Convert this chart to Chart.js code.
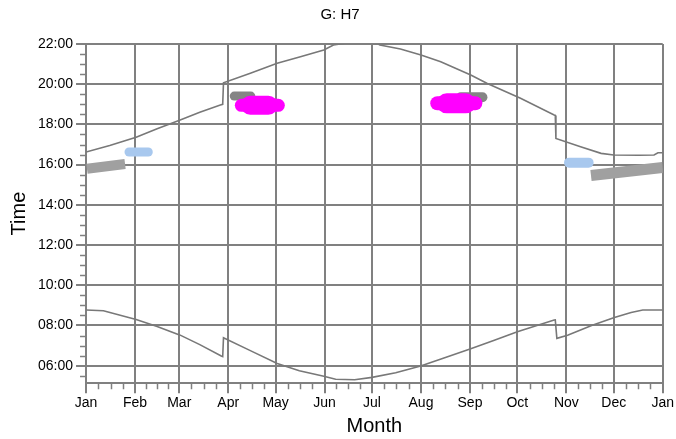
<!DOCTYPE html>
<html>
<head>
<meta charset="utf-8">
<script src="https://cdn.jsdelivr.net/npm/chart.js@4.4.1/dist/chart.umd.min.js"></script>
<style>
  body { margin: 0; background: #fff; }
</style>
</head>
<body>
<canvas id="myChart" width="676" height="439"></canvas>
<script>
// setup - x is day of year (0 = 1 Jan), y is clock time in hours
const monthLabels = ['Jan', 'Feb', 'Mar', 'Apr', 'May', 'Jun', 'Jul', 'Aug', 'Sep', 'Oct', 'Nov', 'Dec', 'Jan']
const monthStarts = [0, 31, 59, 90, 120, 151, 181, 212, 243, 273, 304, 334, 365]
const hourTicks = [6, 8, 10, 12, 14, 16, 18, 20, 22]

// sunset line
const sunsetDay = [0, 15, 31.7, 45, 59.6, 72, 85, 86.5, 87, 104, 121, 135.7, 150.5, 156.6, 165, 175, 185, 186, 199, 212, 224.5, 243.5, 254, 275, 296.3, 297, 297.4, 313, 326, 334, 350, 359.5, 362, 365]
const sunsetHour = [16.63, 16.95, 17.36, 17.78, 18.22, 18.6, 18.97, 19.0, 20.07, 20.54, 21.04, 21.37, 21.7, 21.95, 22.05, 22.08, 22.0, 21.95, 21.75, 21.45, 21.12, 20.46, 20.04, 19.3, 18.47, 18.45, 17.3, 16.89, 16.56, 16.48, 16.47, 16.48, 16.59, 16.59]

// sunrise line
const sunriseDay = [0, 11, 31.7, 45, 59.6, 72, 85.6, 86.5, 87, 104, 121, 135, 150.5, 158, 170, 181, 196, 211.8, 227, 243.5, 258, 273, 296.3, 297, 298, 304.8, 320, 334.4, 345, 352.4, 365]
const sunriseHour = [8.77, 8.73, 8.30, 7.95, 7.52, 7.05, 6.48, 6.45, 7.39, 6.75, 6.11, 5.75, 5.48, 5.33, 5.3, 5.42, 5.65, 5.98, 6.4, 6.84, 7.25, 7.69, 8.27, 8.28, 7.36, 7.52, 8.0, 8.40, 8.65, 8.77, 8.77]

// observation clusters: start/end day and hour of each band
const magentaAprCore = { day: [104.0, 115.4], hour: [18.95, 18.95] }
const magentaAprEdge = { day: [98.3, 121.7], hour: [18.95, 18.95] }
const magentaSepCore = { day: [228.3, 240.3], hour: [19.05, 19.05] }
const magentaSepEdge = { day: [222.3, 246.4], hour: [19.05, 19.05] }
const greyApr = { day: [93.8, 104.3], hour: [19.41, 19.41] }
const greySep = { day: [237.2, 250.9], hour: [19.35, 19.35] }
const greyJan = { day: [0.6, 24.7], hour: [15.8, 16.03] }
const greyDec = { day: [319.6, 365], hour: [15.46, 15.86] }
const blueFeb = { day: [27.2, 39.4], hour: [16.63, 16.63] }
const blueNov = { day: [305.7, 318.1], hour: [16.1, 16.1] }

const toPoints = (xs, ys) => xs.map((x, i) => ({ x: x, y: ys[i] }))

const gridGrey = '#808080'

function blob(set, color, width, cap) {
    return {
        data: toPoints(set.day, set.hour),
        borderColor: color,
        borderWidth: width,
        borderCapStyle: cap,
        pointRadius: 0,
        fill: false
    }
}

// minor tick marks (quarter months, half hours)
const minorTicks = {
    id: 'minorTicks',
    afterDraw(chart) {
        const ctx = chart.ctx
        const xs = chart.scales.x
        const ys = chart.scales.y
        const area = chart.chartArea
        ctx.save()
        ctx.strokeStyle = gridGrey
        ctx.lineWidth = 1.5
        ctx.beginPath()
        for (let i = 0; i < monthStarts.length - 1; i++) {
            const step = (monthStarts[i + 1] - monthStarts[i]) / 4
            for (let q = 1; q < 4; q++) {
                const px = Math.round(xs.getPixelForValue(monthStarts[i] + q * step)) + 0.5
                ctx.moveTo(px, area.bottom)
                ctx.lineTo(px, area.bottom + 6)
            }
        }
        for (let h = 5.5; h < 22; h += 0.5) {
            if (h % 2 === 0 || h < ys.min) continue
            const py = Math.round(ys.getPixelForValue(h)) + 0.5
            ctx.moveTo(area.left, py)
            ctx.lineTo(area.left - 6, py)
        }
        ctx.stroke()
        ctx.restore()
    }
}

Chart.defaults.font.family = "'Liberation Sans', Arial, sans-serif"
Chart.defaults.color = '#000'

const data = {
    datasets: [
        blob(magentaAprCore, '#ff00ff', 19, 'round'),
        blob(magentaAprEdge, '#ff00ff', 13, 'round'),
        blob(magentaSepCore, '#ff00ff', 20, 'round'),
        blob(magentaSepEdge, '#ff00ff', 14, 'round'),
        blob(greyApr, '#858585', 9, 'round'),
        blob(greySep, '#858585', 10, 'round'),
        blob(greyJan, '#a0a0a0', 10, 'butt'),
        blob(greyDec, '#a0a0a0', 11, 'butt'),
        blob(blueFeb, '#a8c8ee', 9, 'round'),
        blob(blueNov, '#a8c8ee', 10, 'round'),
        {
            data: toPoints(sunsetDay, sunsetHour),
            borderColor: '#787878',
            borderWidth: 1.6,
            pointRadius: 0
        },
        {
            data: toPoints(sunriseDay, sunriseHour),
            borderColor: '#787878',
            borderWidth: 1.6,
            pointRadius: 0
        }
    ]
}

const config = {
    type: 'line',
    data: data,
    options: {
        responsive: false,
        animation: false,
        layout: { padding: { left: 7, right: 3, top: 0, bottom: 1 } },
        plugins: {
            legend: { display: false },
            tooltip: { enabled: false },
            title: {
                display: true,
                text: 'G: H7',
                font: { size: 15, weight: 'normal' },
                padding: { top: 6, bottom: 20 }
            }
        },
        scales: {
            x: {
                type: 'linear',
                min: 0,
                max: 365,
                afterBuildTicks: axis => { axis.ticks = monthStarts.map(v => ({ value: v })) },
                ticks: {
                    autoSkip: false,
                    maxRotation: 0,
                    padding: 2,
                    font: { size: 14 },
                    callback: (v, i) => monthLabels[i]
                },
                grid: { color: gridGrey, lineWidth: 2, tickLength: 10, tickColor: gridGrey },
                border: { color: gridGrey, width: 2 },
                title: { display: true, text: 'Month', font: { size: 20 }, padding: { top: 0, bottom: 0 } }
            },
            y: {
                min: 5.13,
                max: 22,
                afterBuildTicks: axis => { axis.ticks = hourTicks.map(v => ({ value: v })) },
                ticks: {
                    autoSkip: false,
                    padding: 3,
                    font: { size: 14 },
                    callback: v => String(v).padStart(2, '0') + ':00'
                },
                grid: { color: gridGrey, lineWidth: 2, tickLength: 10, tickColor: gridGrey },
                border: { color: gridGrey, width: 2 },
                title: { display: true, text: 'Time', font: { size: 20 }, padding: { top: 0, bottom: 4 } }
            }
        }
    },
    plugins: [minorTicks]
}

// render init block
const myChart = new Chart(document.getElementById('myChart'), config)
</script>
</body>
</html>
